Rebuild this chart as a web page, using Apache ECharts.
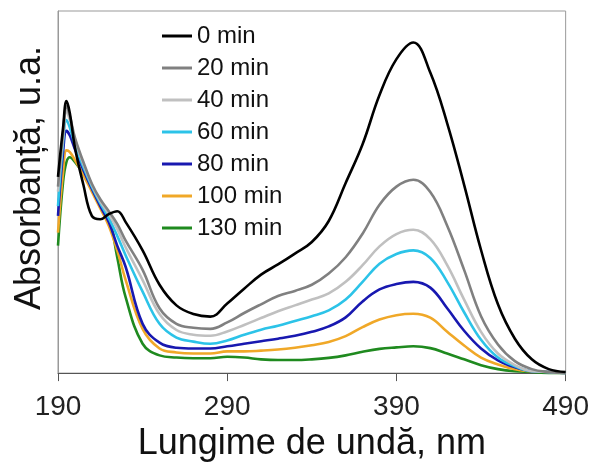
<!DOCTYPE html>
<html>
<head>
<meta charset="utf-8">
<script src="https://cdn.jsdelivr.net/npm/echarts@6/dist/echarts.min.js"></script>
<style>
html,body{margin:0;padding:0;background:#fff;}
#chart{width:592px;height:467px;}
</style>
</head>
<body>
<div id="chart"></div>
<script>
var wavelengths = [190,193,195,197,200,205,210,215,220,225,230,240,250,260,270,280,290,300,310,320,330,340,350,360,370,380,390,400,410,420,430,440,450,460,470,480,490];
var seriesNames = ['0 min','20 min','40 min','60 min','80 min','100 min','130 min'];
var abs0 = [0.542,0.678,0.751,0.718,0.623,0.520,0.434,0.425,0.439,0.447,0.417,0.339,0.244,0.187,0.163,0.156,0.192,0.233,0.272,0.300,0.330,0.362,0.420,0.525,0.632,0.768,0.867,0.913,0.830,0.690,0.520,0.340,0.190,0.095,0.038,0.011,0.003];
var abs20 = [0.515,0.664,0.737,0.710,0.650,0.583,0.523,0.480,0.447,0.412,0.366,0.285,0.179,0.136,0.125,0.122,0.140,0.166,0.190,0.213,0.227,0.244,0.275,0.320,0.385,0.465,0.515,0.534,0.500,0.407,0.285,0.157,0.079,0.033,0.011,0.003,0.000];
var abs40 = [0.501,0.650,0.724,0.699,0.645,0.577,0.520,0.474,0.439,0.398,0.347,0.257,0.163,0.119,0.106,0.103,0.115,0.133,0.152,0.171,0.187,0.203,0.220,0.252,0.298,0.350,0.384,0.396,0.370,0.298,0.203,0.114,0.054,0.022,0.005,0.003,0.000];
var abs60 = [0.461,0.637,0.699,0.678,0.631,0.569,0.515,0.469,0.428,0.379,0.325,0.225,0.136,0.098,0.087,0.081,0.090,0.106,0.120,0.131,0.144,0.157,0.173,0.203,0.252,0.302,0.329,0.339,0.318,0.252,0.168,0.092,0.043,0.019,0.005,0.003,0.000];
var abs80 = [0.434,0.610,0.669,0.656,0.618,0.561,0.509,0.461,0.417,0.352,0.293,0.136,0.084,0.070,0.068,0.068,0.074,0.081,0.088,0.095,0.103,0.114,0.129,0.154,0.198,0.231,0.246,0.252,0.236,0.179,0.117,0.068,0.035,0.016,0.005,0.003,0.000];
var abs100 = [0.388,0.556,0.615,0.610,0.588,0.547,0.501,0.455,0.407,0.339,0.257,0.122,0.068,0.057,0.054,0.054,0.060,0.060,0.062,0.065,0.070,0.077,0.086,0.102,0.127,0.148,0.160,0.164,0.153,0.114,0.076,0.043,0.024,0.011,0.005,0.003,0.000];
var abs130 = [0.352,0.528,0.583,0.596,0.583,0.550,0.507,0.469,0.434,0.320,0.209,0.081,0.049,0.043,0.041,0.041,0.045,0.043,0.038,0.036,0.036,0.038,0.042,0.049,0.059,0.067,0.071,0.074,0.069,0.054,0.038,0.022,0.011,0.005,0.003,0.000,0.000];
var xTicks = [190,290,390,490];

var allValues = [abs0,abs20,abs40,abs60,abs80,abs100,abs130];
var colors = ['#000000','#808080','#c0c0c0','#2cc3e8','#1818b0','#f0a828','#1f8a1f'];

function pairs(arr){ return wavelengths.map(function(w,i){ return [w, arr[i]]; }); }

var series = seriesNames.map(function(n,i){
  return {
    name: n, type: 'line', data: pairs(allValues[i]),
    smooth: 0.4, symbol: 'none', showSymbol: false,
    lineStyle: {color: colors[i], width: 2.6},
    itemStyle: {color: colors[i]},
    z: 10 - i
  };
});

var chart = echarts.init(document.getElementById('chart'), null, {renderer:'canvas'});
chart.setOption({
  animation: false,
  backgroundColor: '#ffffff',
  grid: {left: 58, right: 26, top: 11, bottom: 86, show: true, borderColor: '#999999', borderWidth: 1, backgroundColor: 'transparent'},
  legend: {
    data: seriesNames, orient: 'vertical', left: 162, top: 24, padding: 0,
    icon: 'rect', itemWidth: 30, itemHeight: 3, itemGap: 8,
    textStyle: {fontFamily: 'Liberation Sans, Arial, sans-serif', fontSize: 24, color: '#111', lineHeight: 24}
  },
  xAxis: {
    type: 'value', min: 190, max: 490, interval: 100,
    name: 'Lungime de undă, nm', nameLocation: 'middle', nameGap: 48,
    nameTextStyle: {fontFamily: 'Liberation Sans, Arial, sans-serif', fontSize: 36, color: '#111'},
    axisLine: {show: true, lineStyle: {color: '#555555', width: 1}},
    axisTick: {show: true, length: 8, lineStyle: {color: '#555555'}},
    axisLabel: {fontFamily: 'Liberation Sans, Arial, sans-serif', fontSize: 28, color: '#222', margin: 20,
      formatter: function(v){ return xTicks.indexOf(v) >= 0 ? String(v) : ''; }},
    splitLine: {show: false}
  },
  yAxis: {
    type: 'value', min: 0, max: 1,
    axisLine: {show: true, lineStyle: {color: '#999999'}},
    axisTick: {show: false}, axisLabel: {show: false}, splitLine: {show: false}
  },
  graphic: [{
    type: 'text', x: 30, y: 178, rotation: Math.PI/2,
    style: {text: 'Absorbanță, u.a.', fill: '#111', font: '36px "Liberation Sans", Arial, sans-serif', align: 'center', verticalAlign: 'middle'}
  }],
  series: series
});
</script>
</body>
</html>
